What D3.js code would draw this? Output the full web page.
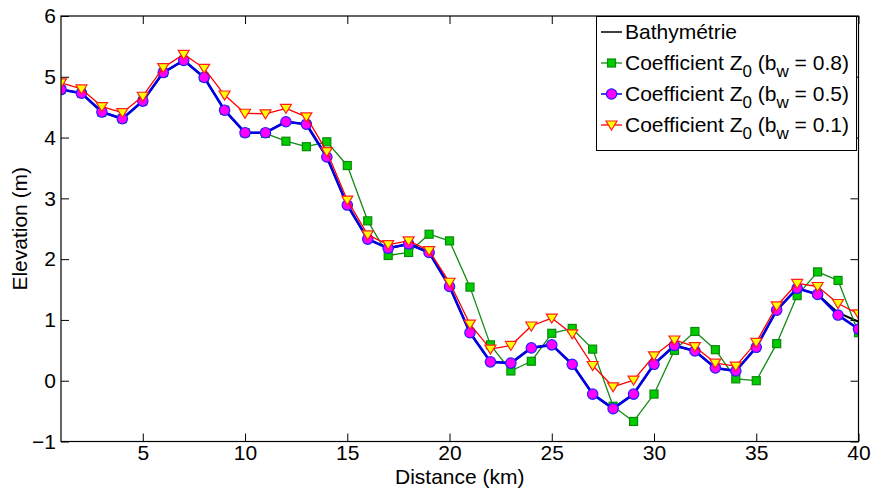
<!DOCTYPE html>
<html>
<head>
<meta charset="utf-8">
<script src="https://cdn.jsdelivr.net/npm/d3@7"></script>
<style>
  body { margin: 0; background: #fff; }
  svg { display: block; }
  text { font-family: "Liberation Sans", Arial, Helvetica, sans-serif; }
</style>
</head>
<body>
<svg id="chart" width="872" height="492"></svg>
<script>
// ---- data ----
const distance = d3.range(1, 41);
const bathy = [4.79, 4.73, 4.42, 4.31, 4.60, 5.07, 5.27, 4.99, 4.45, 4.08,
               4.08, 4.26, 4.22, 3.68, 2.89, 2.33, 2.18, 2.25, 2.11, 1.55,
               0.79, 0.31, 0.29, 0.54, 0.59, 0.27, -0.22, -0.46, -0.22, 0.27,
               0.58, 0.49, 0.21, 0.16, 0.55, 1.16, 1.52, 1.42, 1.12, 0.97];
const z0bw08 = [4.79, 4.73, 4.42, 4.31, 4.60, 5.07, 5.27, 4.99, 4.45, 4.08,
                4.07, 3.94, 3.85, 3.93, 3.54, 2.63, 2.06, 2.11, 2.41, 2.30,
                1.54, 0.59, 0.16, 0.32, 0.78, 0.86, 0.52, -0.42, -0.67, -0.22,
                0.50, 0.81, 0.51, 0.03, 0.00, 0.61, 1.40, 1.79, 1.65, 0.79];
const z0bw05 = [4.79, 4.73, 4.42, 4.31, 4.60, 5.07, 5.27, 4.99, 4.45, 4.08,
                4.08, 4.26, 4.22, 3.68, 2.89, 2.33, 2.18, 2.25, 2.11, 1.55,
                0.79, 0.31, 0.29, 0.54, 0.59, 0.27, -0.22, -0.46, -0.22, 0.27,
                0.58, 0.49, 0.21, 0.16, 0.55, 1.16, 1.52, 1.42, 1.08, 0.85];
const z0bw01 = [4.90, 4.80, 4.51, 4.41, 4.68, 5.15, 5.37, 5.14, 4.70, 4.40,
                4.39, 4.48, 4.34, 3.77, 2.97, 2.40, 2.24, 2.30, 2.14, 1.62,
                0.93, 0.52, 0.58, 0.90, 1.03, 0.77, 0.25, -0.10, 0.01, 0.41,
                0.67, 0.56, 0.29, 0.24, 0.63, 1.23, 1.60, 1.55, 1.27, 1.10];
const xTicks = [5, 10, 15, 20, 25, 30, 35, 40];
const yTicks = [-1, 0, 1, 2, 3, 4, 5, 6];
const xLabel = "Distance (km)";
const yLabel = "Elevation (m)";

// ---- layout ----
const W = 872, H = 492;
const margin = {left: 61, right: 13.5, top: 16, bottom: 50.5};
const svg = d3.select("#chart");
const x = d3.scaleLinear().domain([1, 40]).range([margin.left, W - margin.right]);
const y = d3.scaleLinear().domain([-1, 6]).range([H - margin.bottom, margin.top]);
const FS = 21;
const TL = 8;

svg.append("defs").append("clipPath").attr("id", "clip")
  .append("rect").attr("x", x(1)).attr("y", y(6)).attr("width", x(40) - x(1)).attr("height", y(-1) - y(6));

const series = [
  {name: "bathy", values: bathy, color: "#000000", width: 2, marker: null},
  {name: "bw08", values: z0bw08, color: "#118a11", width: 1.3, marker: "square", fill: "#00cc00", stroke: "#0a8a0a"},
  {name: "bw05", values: z0bw05, color: "#0000e6", width: 2.6, marker: "circle", fill: "#ff00ff", stroke: "#2020ff"},
  {name: "bw01", values: z0bw01, color: "#ff0000", width: 1.3, marker: "triangle", fill: "#ffff00", stroke: "#ff2020"}
];

const line = d3.line().x((d, i) => x(distance[i])).y(d => y(d));

function drawMarker(g, type, cx, cy, s) {
  if (type === "square") {
    g.append("rect").attr("x", cx - 4).attr("y", cy - 4).attr("width", 8).attr("height", 8)
      .attr("fill", s.fill).attr("stroke", s.stroke).attr("stroke-width", 1.2);
  } else if (type === "circle") {
    g.append("circle").attr("cx", cx).attr("cy", cy).attr("r", 5.2)
      .attr("fill", s.fill).attr("stroke", s.stroke).attr("stroke-width", 1.2);
  } else if (type === "triangle") {
    g.append("path").attr("d", `M${cx - 5.5},${cy - 4} L${cx + 5.5},${cy - 4} L${cx},${cy + 5} Z`)
      .attr("fill", s.fill).attr("stroke", s.stroke).attr("stroke-width", 1.2);
  }
}

const plot = svg.append("g").attr("clip-path", "url(#clip)");
series.forEach(s => {
  const g = plot.append("g");
  g.append("path").datum(s.values).attr("d", line).attr("fill", "none")
    .attr("stroke", s.color).attr("stroke-width", s.width).attr("stroke-linejoin", "round");
  if (s.marker) {
    s.values.forEach((v, i) => drawMarker(g, s.marker, x(distance[i]), y(v), s));
  }
});

// axes box and ticks
const axisG = svg.append("g");
const bottomAxis = d3.axisBottom(x).tickValues(xTicks).tickSize(-TL).tickPadding(4).tickFormat(d3.format("d"));
const topAxis = d3.axisTop(x).tickValues(xTicks).tickSize(-TL).tickFormat("");
const leftAxis = d3.axisLeft(y).tickValues(yTicks).tickSize(-TL).tickPadding(5)
  .tickFormat(d => d < 0 ? "\u2212" + Math.abs(d) : String(d));
const rightAxis = d3.axisRight(y).tickValues(yTicks).tickSize(-TL).tickFormat("");

function style(g) {
  g.selectAll(".tick line").attr("stroke", "#000").attr("stroke-width", 1);
  g.selectAll(".tick text").attr("fill", "#000").style("font-size", FS + "px")
    .style("font-family", '"Liberation Sans", Arial, sans-serif');
}
axisG.append("g").attr("transform", `translate(0,${y(-1)})`).call(bottomAxis).call(style);
axisG.append("g").attr("transform", `translate(0,${y(6)})`).call(topAxis).call(style);
axisG.append("g").attr("transform", `translate(${x(1)},0)`).call(leftAxis).call(style);
axisG.append("g").attr("transform", `translate(${x(40)},0)`).call(rightAxis).call(style);
axisG.selectAll(".domain").remove();
axisG.append("rect").attr("x", x(1)).attr("y", y(6)).attr("width", x(40) - x(1)).attr("height", y(-1) - y(6))
  .attr("fill", "none").attr("stroke", "#000").attr("stroke-width", 1.2);

// axis labels
svg.append("text").attr("x", (x(1) + x(40)) / 2).attr("y", 484).attr("text-anchor", "middle")
  .style("font-size", FS + "px").text(xLabel);
svg.append("text").attr("transform", `translate(27,${(y(6) + y(-1)) / 2}) rotate(-90)`)
  .attr("text-anchor", "middle").style("font-size", FS + "px").text(yLabel);

// legend
const leg = svg.append("g");
leg.append("rect").attr("x", 596.5).attr("y", 16.5).attr("width", 260).attr("height", 134)
  .attr("fill", "#fff").attr("stroke", "#000").attr("stroke-width", 1);
const legendItems = [
  {s: series[0], parts: [["Bathymétrie", false]]},
  {s: series[1], parts: [["Coefficient Z", false], ["0", true], [" (b", false], ["w", true], [" = 0.8)", false]]},
  {s: series[2], parts: [["Coefficient Z", false], ["0", true], [" (b", false], ["w", true], [" = 0.5)", false]]},
  {s: series[3], parts: [["Coefficient Z", false], ["0", true], [" (b", false], ["w", true], [" = 0.1)", false]]}
];
legendItems.forEach((it, i) => {
  const by = 39 + i * 31;
  const cy = by - 7;
  leg.append("line").attr("x1", 601).attr("x2", 622).attr("y1", cy).attr("y2", cy)
    .attr("stroke", it.s.color).attr("stroke-width", Math.min(it.s.width, 1.5));
  if (it.s.marker) drawMarker(leg, it.s.marker, 611.5, cy, it.s);
  const t = leg.append("text").attr("x", 625).attr("y", by).style("font-size", FS + "px");
  let sub = false;
  it.parts.forEach(([txt, isSub]) => {
    const ts = t.append("tspan").text(txt);
    if (isSub && !sub) { ts.attr("dy", 7).style("font-size", "17px"); sub = true; }
    else if (!isSub && sub) { ts.attr("dy", -7); sub = false; }
  });
});
</script>
</body>
</html>
